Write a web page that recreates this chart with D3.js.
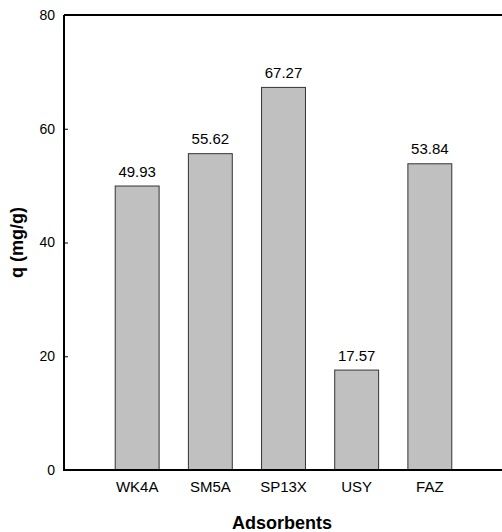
<!DOCTYPE html>
<html><head><meta charset="utf-8">
<script src="https://cdn.jsdelivr.net/npm/d3@7"></script>
<style>body{margin:0;background:#fff}svg{display:block}</style>
</head><body>
<script>
const categories = ["WK4A","SM5A","SP13X","USY","FAZ"];
const values = [49.93, 55.62, 67.27, 17.57, 53.84];
const yTicks = [0,20,40,60,80];
const valueLabels = ["49.93","55.62","67.27","17.57","53.84"];

const W=502,H=532;
const svg=d3.select("body").append("svg").attr("width",W).attr("height",H);
const mLeft=64, mRight=503, mTop=15, mBottom=470;
const x=d3.scaleLinear().domain([0,6]).range([mLeft,mRight]);
const y=d3.scaleLinear().domain([0,80]).range([mBottom,mTop]);
const font="Liberation Sans, Arial, sans-serif";
const bw=(x(1)-x(0))*0.6;

svg.selectAll("rect.bar").data(values).join("rect")
  .attr("x",(d,i)=>x(i+1)-bw/2).attr("y",d=>y(d))
  .attr("width",bw).attr("height",d=>y(0)-y(d))
  .attr("fill","#c0c0c0").attr("stroke","#333").attr("stroke-width",1);

svg.selectAll("text.val").data(values).join("text")
  .attr("x",(d,i)=>x(i+1)).attr("y",d=>y(d)-9.5)
  .attr("text-anchor","middle").attr("font-family",font).attr("font-size",15)
  .text((d,i)=>valueLabels[i]);

// y axis
const ya=svg.append("g").attr("transform",`translate(${mLeft},0)`)
  .call(d3.axisLeft(y).tickValues(yTicks).tickSize(-4).tickPadding(9).tickFormat(d3.format("d")));
ya.select(".domain").remove();
ya.selectAll("line").attr("stroke","#000");
ya.selectAll("text").attr("font-family",font).attr("font-size",14).attr("fill","#000");

// x tick labels
svg.selectAll("text.cat").data(categories).join("text")
  .attr("x",(d,i)=>x(i+1)).attr("y",mBottom+21.5)
  .attr("text-anchor","middle").attr("font-family",font).attr("font-size",15)
  .text(d=>d);

// frame: left, top, bottom
svg.append("path").attr("d",`M${mLeft},${mTop}H${W+5}M${mLeft},${mTop}V${mBottom}H${W+5}`)
  .attr("fill","none").attr("stroke","#000").attr("stroke-width",2);

svg.append("text").attr("x",282).attr("y",529).attr("text-anchor","middle")
  .attr("font-family",font).attr("font-size",18).attr("font-weight","bold").text("Adsorbents");
svg.append("text").attr("transform",`translate(23,${(mTop+mBottom)/2}) rotate(-90)`)
  .attr("text-anchor","middle").attr("font-family",font).attr("font-size",18).attr("font-weight","bold").text("q (mg/g)");
</script>
</body></html>
